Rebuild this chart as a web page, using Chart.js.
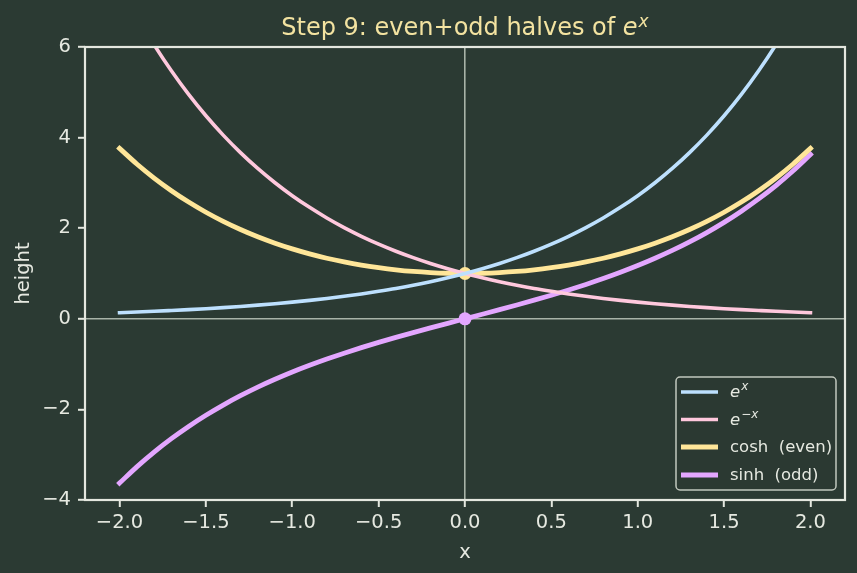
<!DOCTYPE html>
<html><head><meta charset="utf-8">
<script src="https://cdn.jsdelivr.net/npm/chart.js@4.4.0/dist/chart.umd.min.js"></script>
<style>html,body{margin:0;padding:0;background:#2b3a33;}#wrap{width:857px;height:573px;}</style>
</head><body><div id="wrap"><canvas id="c" width="857" height="573"></canvas></div>
<script>
// ---- data ----
const xs = [-2.0,-1.9,-1.8,-1.7,-1.6,-1.5,-1.4,-1.3,-1.2,-1.1,-1.0,-0.9,-0.8,-0.7,-0.6,-0.5,-0.4,-0.3,-0.2,-0.1,0.0,0.1,0.2,0.3,0.4,0.5,0.6,0.7,0.8,0.9,1.0,1.1,1.2,1.3,1.4,1.5,1.6,1.7,1.8,1.9,2.0];
const expPos = [0.135,0.150,0.165,0.183,0.202,0.223,0.247,0.273,0.301,0.333,0.368,0.407,0.449,0.497,0.549,0.607,0.670,0.741,0.819,0.905,1.000,1.105,1.221,1.350,1.492,1.649,1.822,2.014,2.226,2.460,2.718,3.004,3.320,3.669,4.055,4.482,4.953,5.474,6.050,6.686,7.389];
const expNeg = [7.389,6.686,6.050,5.474,4.953,4.482,4.055,3.669,3.320,3.004,2.718,2.460,2.226,2.014,1.822,1.649,1.492,1.350,1.221,1.105,1.000,0.905,0.819,0.741,0.670,0.607,0.549,0.497,0.449,0.407,0.368,0.333,0.301,0.273,0.247,0.223,0.202,0.183,0.165,0.150,0.135];
const coshV = [3.762,3.418,3.107,2.828,2.577,2.352,2.151,1.971,1.811,1.669,1.543,1.433,1.337,1.255,1.185,1.128,1.081,1.045,1.020,1.005,1.000,1.005,1.020,1.045,1.081,1.128,1.185,1.255,1.337,1.433,1.543,1.669,1.811,1.971,2.151,2.352,2.577,2.828,3.107,3.418,3.762];
const sinhV = [-3.627,-3.268,-2.942,-2.646,-2.376,-2.129,-1.904,-1.698,-1.509,-1.336,-1.175,-1.027,-0.888,-0.759,-0.637,-0.521,-0.411,-0.305,-0.201,-0.100,0.000,0.100,0.201,0.305,0.411,0.521,0.637,0.759,0.888,1.027,1.175,1.336,1.509,1.698,1.904,2.129,2.376,2.646,2.942,3.268,3.627];
const markX = [0, 0];
const markY = [1, 0];
const xTicks = [-2.0,-1.5,-1.0,-0.5,0.0,0.5,1.0,1.5,2.0];
const yTicks = [-4,-2,0,2,4,6];
const seriesNames = ['e^x','e^-x','cosh  (even)','sinh  (odd)'];

const BG = '#2b3a33';
const FG = '#e6e9e1';
const SPINE = '#e4e7df';
const ZERO = 'rgba(200,210,198,0.8)';
const COLORS = ['#bde0fe','#ffc8dd','#ffe699','#e3a6ff'];
const WIDTHS = [3.6, 3.6, 4.8, 4.8];
const FONT = '"DejaVu Sans", "Liberation Sans", sans-serif';

const pts = (ys) => xs.map((x,i)=>({x:x,y:ys[i]}));
const fmtMinus = (s) => String(s).replace('-', '\u2212');

const richParts = [
  [{t:'e',it:true},{t:'x',it:true,sup:true}],
  [{t:'e',it:true},{t:'\u2212x',it:true,sup:true}],
  [{t:'cosh  (even)'}],
  [{t:'sinh  (odd)'}]
];

function drawRich(ctx, parts, x, y, size, supSize, raise, measureOnly) {
  let w = 0;
  for (const p of parts) {
    ctx.font = (p.it ? 'italic ' : '') + (p.sup ? supSize : size) + 'px ' + FONT;
    const mw = ctx.measureText(p.t).width;
    if (!measureOnly) ctx.fillText(p.t, x + w, y - (p.sup ? raise : 0));
    w += mw + (p.it && !p.sup ? 1 : 0);
  }
  return w;
}

const decor = {
  id: 'decor',
  beforeDraw(chart) {
    const ctx = chart.ctx;
    ctx.save();
    ctx.fillStyle = BG;
    ctx.fillRect(0, 0, chart.width, chart.height);
    ctx.restore();
  },
  afterDatasetsDraw(chart) {
    const ctx = chart.ctx;
    const a = chart.chartArea;
    ctx.save();
    // spines
    ctx.strokeStyle = SPINE;
    ctx.lineWidth = 2.2;
    ctx.strokeRect(a.left, a.top, a.right - a.left, a.bottom - a.top);
    // title
    ctx.fillStyle = '#f3e3a1';
    ctx.textBaseline = 'alphabetic';
    ctx.textAlign = 'left';
    const tParts = [{t:'Step 9: even+odd halves of '},{t:'e',it:true},{t:'x',it:true,sup:true}];
    const tw = drawRich(ctx, tParts, 0, 0, 24, 17, 8, true);
    const cx = (a.left + a.right) / 2;
    drawRich(ctx, tParts, cx - tw / 2, 35, 24, 17, 8, false);
    // legend
    const L = {x: 676, y: 377, w: 160, h: 113};
    ctx.beginPath();
    ctx.roundRect(L.x, L.y, L.w, L.h, 4);
    ctx.fillStyle = 'rgba(43,58,51,0.85)';
    ctx.fill();
    ctx.strokeStyle = 'rgba(210,215,205,0.9)';
    ctx.lineWidth = 1.5;
    ctx.stroke();
    const rows = [392, 419.5, 447, 475];
    for (let i = 0; i < 4; i++) {
      ctx.strokeStyle = COLORS[i];
      ctx.lineWidth = WIDTHS[i];
      ctx.lineCap = 'butt';
      ctx.beginPath();
      ctx.moveTo(681, rows[i]);
      ctx.lineTo(718, rows[i]);
      ctx.stroke();
      ctx.fillStyle = FG;
      ctx.textBaseline = 'middle';
      drawRich(ctx, richParts[i], 730, rows[i] + 1, 16.5, 12, 6, false);
    }
    ctx.restore();
  }
};

const zeroGrid = (ctx) => (ctx.tick && ctx.tick.value === 0) ? ZERO : 'rgba(0,0,0,0)';

const lineDs = (i, ys) => ({label: seriesNames[i], data: pts(ys), borderColor: COLORS[i], borderWidth: WIDTHS[i],
  pointRadius: 0, cubicInterpolationMode: 'monotone', borderCapStyle: 'square', borderJoinStyle: 'round'});

new Chart(document.getElementById('c'), {
  type: 'line',
  data: {
    datasets: [
      lineDs(0, expPos),
      lineDs(1, expNeg),
      lineDs(2, coshV),
      lineDs(3, sinhV),
      {label: 'cosh0', type: 'scatter', data: [{x: markX[0], y: markY[0]}], backgroundColor: COLORS[2], borderColor: COLORS[2], pointRadius: 6.5, borderWidth: 0},
      {label: 'sinh0', type: 'scatter', data: [{x: markX[1], y: markY[1]}], backgroundColor: COLORS[3], borderColor: COLORS[3], pointRadius: 6.5, borderWidth: 0}
    ]
  },
  options: {
    responsive: false,
    devicePixelRatio: 1,
    animation: false,
    layout: {padding: {top: 47, right: 12, left: 0, bottom: 0}},
    plugins: {legend: {display: false}, title: {display: false}, tooltip: {enabled: false}},
    scales: {
      x: {
        type: 'linear', min: -2.2, max: 2.2,
        afterBuildTicks: (s) => { s.ticks = xTicks.map(v => ({value: v})); },
        afterFit: (s) => { s.height = 73; },
        ticks: {color: FG, font: {family: FONT, size: 19.5}, padding: 4, maxRotation: 0, autoSkip: false,
          callback: (v) => fmtMinus(Number(v).toFixed(1))},
        grid: {color: zeroGrid, lineWidth: 1.6, drawTicks: true, tickLength: 7, tickColor: SPINE, tickWidth: 2},
        border: {display: false},
        title: {display: true, text: 'x', color: FG, font: {family: FONT, size: 19.5}, padding: {top: 0, bottom: 8}}
      },
      y: {
        type: 'linear', min: -4, max: 6,
        afterBuildTicks: (s) => { s.ticks = yTicks.map(v => ({value: v})); },
        afterFit: (s) => { s.width = 85; },
        ticks: {color: FG, font: {family: FONT, size: 19.5}, padding: 7, autoSkip: false,
          callback: (v) => fmtMinus(v)},
        grid: {color: zeroGrid, lineWidth: 1.6, drawTicks: true, tickLength: 7, tickColor: SPINE, tickWidth: 2},
        border: {display: false},
        title: {display: true, text: 'height', color: FG, font: {family: FONT, size: 19.5}, padding: {top: 12, bottom: 0}}
      }
    }
  },
  plugins: [decor]
});
</script></body></html>
